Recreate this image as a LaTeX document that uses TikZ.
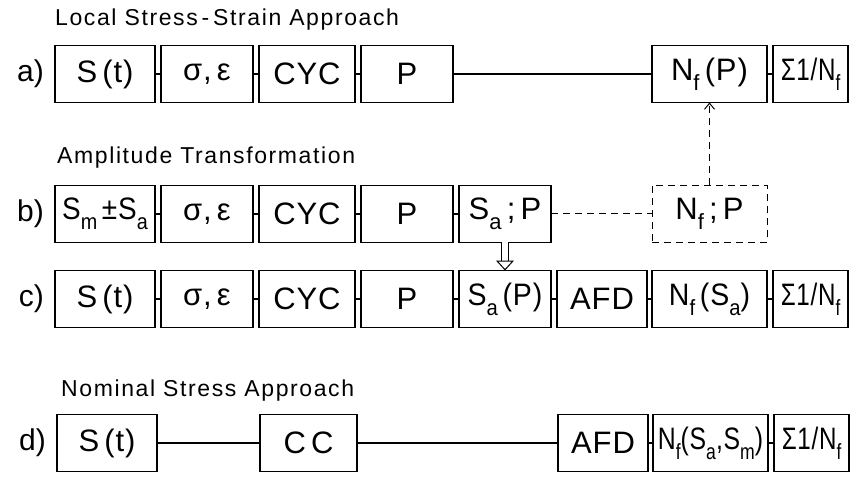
\documentclass[tikz,border=0pt]{standalone}
\usepackage{fontspec}
\setmainfont{Liberation Sans}
\usetikzlibrary{positioning,arrows.meta}

% lowered index letter (N_f, S_a, ...)
\newcommand\idx[1]{\raisebox{-0.32em}{\fontsize{22}{22}\selectfont #1}}

\begin{document}
\begin{tikzpicture}[
  x=1pt, y=-1pt,
  >={Straight Barb[length=6pt,width=10pt]},
  every node/.style={inner sep=1pt},
  stepbox/.style={
    rectangle, draw=black, line width=1.2pt,
    minimum height=57pt, inner sep=1pt, outer sep=0pt, anchor=west,
    font=\fontsize{31}{32}\selectfont\addfontfeature{LetterSpace=3},
  },
  dashbox/.style={stepbox, line width=1pt, dash pattern=on 7pt off 5pt},
  rowlbl/.style={font=\fontsize{30}{32}\selectfont},
  hdr/.style={anchor=base west,
    font=\fontsize{23}{26}\selectfont\addfontfeature{LetterSpace=7}},
  link/.style={draw=black, line width=1.2pt},
  dashlink/.style={draw=black, line width=1pt, dash pattern=on 7pt off 5pt},
  hollow/.style={draw=black, line width=1pt, double, double distance=6pt,
    -{Triangle[open, length=10pt, width=18pt]}},
]
\useasboundingbox (0,0) rectangle (854,481);

%---------- a) local stress-strain ----------
\node[hdr] (ta) at (54,26) {Local Stress\,-\,Strain Approach};
\node[stepbox, minimum width=100pt] (a1) at (55,74) {S\,(t)};
\node[stepbox, minimum width=92pt, right=6pt of a1] (a2) {σ,\,ε};
\node[stepbox, minimum width=96pt, right=6pt of a2] (a3) {CYC};
\node[stepbox, minimum width=92pt, right=6pt of a3] (a4) {P};
\node[stepbox, minimum width=115pt] (a7) at (652,74) {N\idx{f}\,(P)};
\node[stepbox, minimum width=75pt, right=6pt of a7] (a8)
  {\scalebox{0.78}[1]{Σ1/N\idx{f}}};
\node[rowlbl, left=10pt of a1] (la) {a)};

%---------- b) amplitude transformation ----------
\node[hdr] (tb) at (56,164) {Amplitude Transformation};
\node[stepbox, minimum width=100pt] (b1) at (55,214)
  {\scalebox{0.9}[1]{S\idx{m}\,±S\idx{a}}};
\node[stepbox, minimum width=92pt, right=6pt of b1] (b2) {σ,\,ε};
\node[stepbox, minimum width=96pt, right=6pt of b2] (b3) {CYC};
\node[stepbox, minimum width=92pt, right=6pt of b3] (b4) {P};
\node[stepbox, minimum width=92pt, right=6pt of b4] (b5) {S\idx{a}\,;\,P};
\node[dashbox, minimum width=115pt] (b7) at (652,214) {N\idx{f}\,;\,P};
\node[rowlbl, left=10pt of b1] (lb) {b)};

%---------- c) ----------
\node[stepbox, minimum width=100pt] (c1) at (55,299) {S\,(t)};
\node[stepbox, minimum width=92pt, right=6pt of c1] (c2) {σ,\,ε};
\node[stepbox, minimum width=96pt, right=6pt of c2] (c3) {CYC};
\node[stepbox, minimum width=92pt, right=6pt of c3] (c4) {P};
\node[stepbox, minimum width=92pt, right=6pt of c4] (c5)
  {\scalebox{0.92}[1]{S\idx{a}\,(P)}};
\node[stepbox, minimum width=90pt, right=6pt of c5] (c6) {AFD};
\node[stepbox, minimum width=115pt, right=5pt of c6] (c7)
  {\scalebox{0.92}[1]{N\idx{f}\,(S\idx{a})}};
\node[stepbox, minimum width=75pt, right=6pt of c7] (c8)
  {\scalebox{0.78}[1]{Σ1/N\idx{f}}};
\node[rowlbl, left=10pt of c1] (lc) {c)};

%---------- d) nominal stress ----------
\node[hdr] (td) at (60,396) {Nominal Stress Approach};
\node[stepbox, minimum width=100pt] (d1) at (57,443) {S\,(t)};
\node[stepbox, minimum width=97pt] (d3) at (260,443) {C\,C};
\node[stepbox, minimum width=90pt] (d6) at (558,443) {AFD};
\node[stepbox, minimum width=115pt, right=5pt of d6] (d7)
  {\scalebox{0.8}[1]{N\idx{f}(S\idx{a},S\idx{m})}};
\node[stepbox, minimum width=75pt, right=6pt of d7] (d8)
  {\scalebox{0.78}[1]{Σ1/N\idx{f}}};
\node[rowlbl, left=10pt of d1] (ld) {d)};

%---------- connectors ----------
\foreach \l/\r in {a1/a2,a2/a3,a3/a4,a4/a7,a7/a8,
                   b1/b2,b2/b3,b3/b4,b4/b5,
                   c1/c2,c2/c3,c3/c4,c4/c5,c5/c6,c6/c7,c7/c8,
                   d1/d3,d3/d6,d6/d7,d7/d8}{
  \draw[link] (\l.east) -- (\r.west);
}
\draw[dashlink] (b5.east) -- (b7.west);
\draw[dashlink, ->] (b7.north) -- (a7.south);
\draw[hollow] (b5.south) -- (c5.north);

\end{tikzpicture}
\end{document}
